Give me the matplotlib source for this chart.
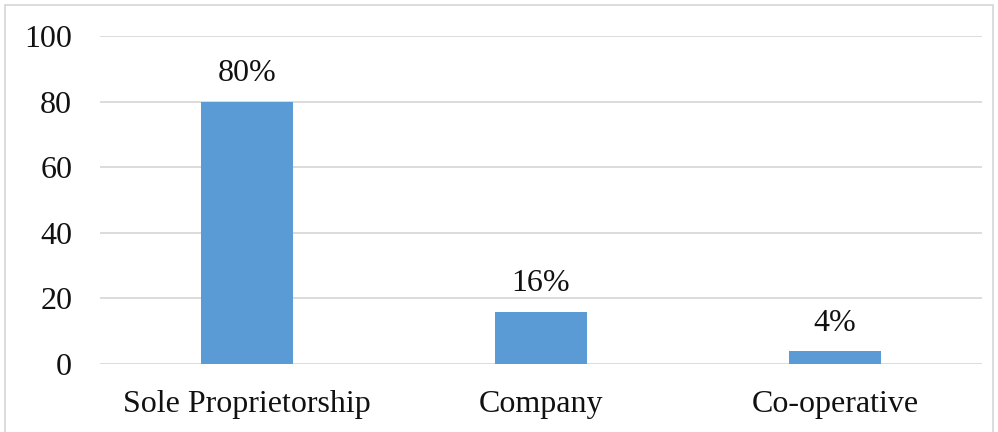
import matplotlib.pyplot as plt
from matplotlib.patches import Rectangle

# business ownership types and their share (%)
categories = ['Sole Proprietorship', 'Company', 'Co-operative']
shares = [80, 16, 4]
y_ticks = [0, 20, 40, 60, 80, 100]

plt.rcParams['font.family'] = ['Liberation Serif', 'DejaVu Serif']

W, H = 998, 432
fig = plt.figure(figsize=(W / 100, H / 100), dpi=100)
ax = fig.add_axes([100 / W, (H - 364) / H, (982 - 100) / W, (364 - 36) / H])

x = range(len(categories))
bars = ax.bar(x, shares, width=0.313, color='#5B9BD5', zorder=3)
for b, v in zip(bars, shares):
    ax.text(b.get_x() + b.get_width() / 2, v + 4, f'{v}%',
            ha='center', va='bottom', fontsize=23, color='#111111')

ax.set_xlim(-0.5, len(categories) - 0.5)
ax.set_ylim(0, 100)
ax.set_yticks(y_ticks)
ax.set_xticks(list(x))
ax.set_xticklabels(categories)
ax.tick_params(axis='both', length=0, labelsize=23, colors='#111111')
ax.tick_params(axis='y', pad=20)
ax.tick_params(axis='x', pad=19)
ax.grid(axis='y', color='#d9d9d9', linewidth=1.3, zorder=0)
for s in ax.spines.values():
    s.set_visible(False)

# light frame around the whole chart
fig.patches.append(Rectangle((5 / W, -0.1), (993 - 5) / W, 1.1 - 5 / H,
                             transform=fig.transFigure, fill=False,
                             edgecolor='#d9d9d9', linewidth=1.3))

fig.savefig('out.png', dpi=100)
